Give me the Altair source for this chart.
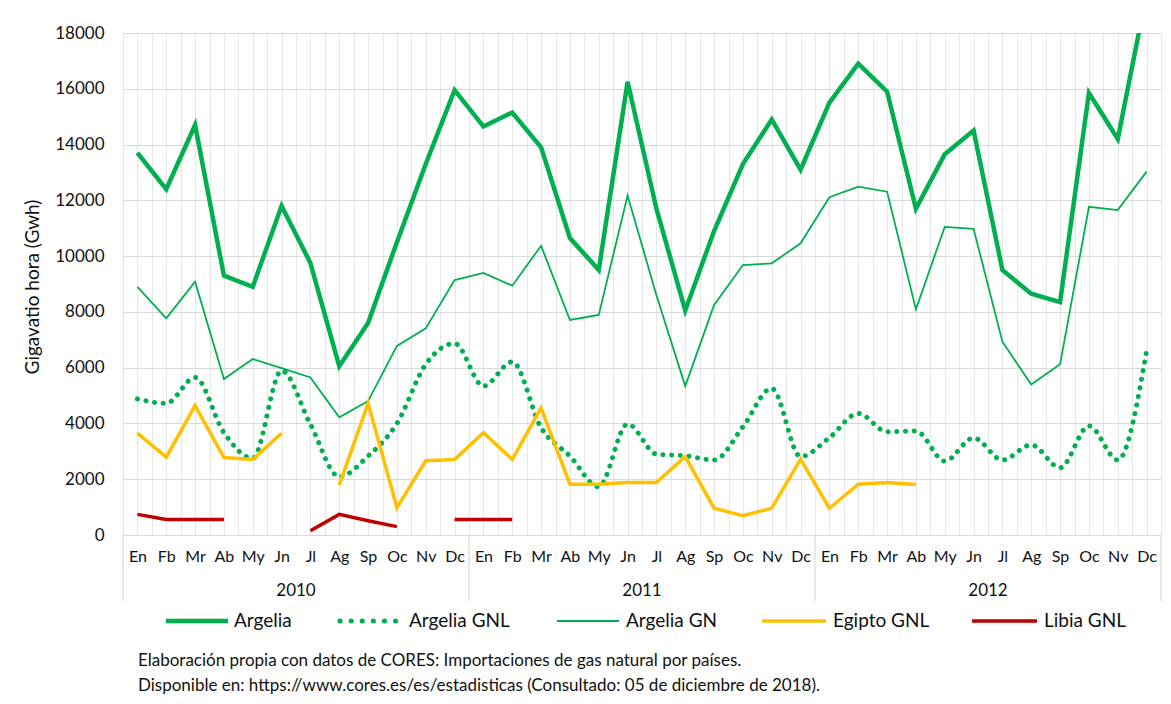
import altair as alt
import pandas as pd

months = ["En", "Fb", "Mr", "Ab", "My", "Jn", "Jl", "Ag", "Sp", "Oc", "Nv", "Dc"]
years = ["2010", "2011", "2012"]

argelia = [13700, 12400, 14700, 9300, 8900, 11800, 9750, 6050, 7600, 10500, 13300, 15950,
           14650, 15150, 13900, 10650, 9500, 16250, 11700, 8050, 10900, 13300, 14900, 13100,
           15500, 16900, 15900, 11700, 13650, 14500, 9500, 8650, 8350, 15850, 14200, 19400]

argelia_gnl = [4880, 4720, 5650, 3670, 2750, 5890, 3970, 2090, 2830, 4000, 6120, 6870,
               5340, 6210, 3850, 2830, 1730, 3980, 2900, 2840, 2690, 3880, 5260, 2810,
               3490, 4360, 3700, 3730, 2650, 3480, 2690, 3230, 2410, 3910, 2690, 6600]

argelia_gn = [8900, 7770, 9080, 5590, 6310, 5980, 5650, 4220, 4800, 6780, 7410, 9140,
              9400, 8940, 10370, 7710, 7890, 12170, 8600, 5340, 8250, 9680, 9740, 10460,
              12110, 12490, 12310, 8090, 11050, 10980, 6930, 5400, 6120, 11770, 11650, 13030]

egipto_gnl = [3650, 2790, 4640, 2780, 2710, 3650, None, 1790, 4720, 980, 2660, 2710,
              3670, 2710, 4560, 1820, 1820, 1880, 1880, 2810, 960, 690, 960, 2720,
              960, 1820, 1880, 1810, None, None, None, None, None, None, None, None]

libia_gnl = [740, 560, 560, 560, None, None, 150, 740, 510, 300, None, 560,
             560, 560, None, None, None, None, None, None, None, None, None, None,
             None, None, None, None, None, None, None, None, None, None, None, None]

series_names = ["Argelia", "Argelia GNL", "Argelia GN", "Egipto GNL", "Libia GNL"]
series_vals = [argelia, argelia_gnl, argelia_gn, egipto_gnl, libia_gnl]

GREEN = "#00B050"
YELLOW = "#FFC000"
RED = "#C00000"
FONT = "Lato"
TXT = "#111111"

rows = []
for name, vals in zip(series_names, series_vals):
    seg = 0
    for i, v in enumerate(vals):
        if v is None:
            seg += 1
            continue
        rows.append({"series": name, "idx": i, "value": v, "seg": seg})
df = pd.DataFrame(rows)

W, H = 1038, 502

month_arr = "[" + ",".join("'" + m + "'" for m in months) + "]"
label_expr = "datum.value % 1 == 0 ? " + month_arr + "[datum.value % 12] : ''"

x_scale = alt.Scale(domain=[-0.5, 35.5], nice=False, zero=False)
x_axis = alt.Axis(
    values=[i * 0.5 - 0.5 for i in range(73)],
    labelExpr=label_expr,
    grid=True, gridColor="#E6E6E6", gridWidth=1,
    ticks=False, domain=False, title=None,
    labelOverlap=False, labelFlush=False, labelBound=False,
    labelFont=FONT, labelFontSize=16, labelColor=TXT, labelPadding=13,
)
x_enc = alt.X("idx:Q", scale=x_scale, axis=x_axis)
y_enc = alt.Y(
    "value:Q",
    scale=alt.Scale(domain=[0, 18000], nice=False, zero=True),
    axis=alt.Axis(
        values=list(range(0, 18001, 2000)), format="d",
        grid=True, gridColor="#D9D9D9", gridWidth=1,
        ticks=False, domain=False, title=None,
        labelFont=FONT, labelFontSize=17, labelColor=TXT, labelPadding=19,
    ),
)

def series_layer(name, **mark):
    return alt.Chart(df[df.series == name]).mark_line(**mark).encode(
        x=x_enc, y=y_enc, detail="seg:N"
    )

l_arg = series_layer("Argelia", color=GREEN, strokeWidth=4.5, clip=True, strokeJoin="miter")
l_gnl = series_layer("Argelia GNL", color=GREEN, strokeWidth=5, strokeDash=[0.1, 8.6],
                     strokeCap="round", interpolate="monotone")
l_gn = series_layer("Argelia GN", color=GREEN, strokeWidth=1.8)
l_egi = series_layer("Egipto GNL", color=YELLOW, strokeWidth=3.5)
l_lib = series_layer("Libia GNL", color=RED, strokeWidth=3.5)

# multi-level category axis: year group separators and year labels
sep_df = pd.DataFrame({"pos": [-0.5, 11.5, 23.5, 35.5]})
seps = alt.Chart(sep_df).mark_rule(color="#D9D9D9", strokeWidth=1.2).encode(
    x=alt.X("pos:Q", scale=x_scale, axis=x_axis),
    y=alt.value(H), y2=alt.value(H + 66),
)
year_df = pd.DataFrame({"year": years, "mid": [5.5, 17.5, 29.5]})
year_txt = alt.Chart(year_df).mark_text(font=FONT, fontSize=17, color=TXT, baseline="middle").encode(
    x=alt.X("mid:Q", scale=x_scale, axis=x_axis),
    y=alt.value(H + 56), text="year:N",
)

# y axis title
y_title = alt.Chart(pd.DataFrame({"t": ["Gigavatio hora (Gwh)"]})).mark_text(
    font=FONT, fontSize=19, color=TXT, angle=270, align="center", baseline="middle"
).encode(x=alt.value(-90), y=alt.value(H / 2 + 3), text="t:N")

# legend (below the chart)
LX0 = 123
leg_y = 588
legend_items = [
    ("Argelia", 166, 228, 6, dict(color=GREEN, strokeWidth=4.5)),
    ("Argelia GNL", 340, 398, 11, dict(color=GREEN, strokeWidth=5, strokeDash=[0.1, 11], strokeCap="round")),
    ("Argelia GN", 557, 619, 7, dict(color=GREEN, strokeWidth=1.8)),
    ("Egipto GNL", 762, 826, 7, dict(color=YELLOW, strokeWidth=3.5)),
    ("Libia GNL", 972, 1037, 7, dict(color=RED, strokeWidth=3.5)),
]
legend_layers = []
for name, a, b, gap, st in legend_items:
    one = pd.DataFrame({"label": [name]})
    legend_layers.append(
        alt.Chart(one).mark_rule(**st).encode(
            x=alt.value(a - LX0), x2=alt.value(b - LX0), y=alt.value(leg_y)
        )
    )
    legend_layers.append(
        alt.Chart(one).mark_text(font=FONT, fontSize=19, color=TXT, align="left", baseline="middle").encode(
            x=alt.value(b - LX0 + gap), y=alt.value(leg_y), text="label:N"
        )
    )

notes = [
    "Elaboración propia con datos de CORES: Importaciones de gas natural por países.",
    "Disponible en:  https://www.cores.es/es/estadisticas (Consultado: 05 de diciembre de 2018).",
]
note_layers = []
for k, t in enumerate(notes):
    note_layers.append(
        alt.Chart(pd.DataFrame({"t": [t]})).mark_text(
            font=FONT, fontSize=17, color=TXT, align="left", baseline="middle"
        ).encode(x=alt.value(138 - LX0), y=alt.value(628 + 25 * k), text="t:N")
    )

border = alt.Chart(pd.DataFrame({"b": [0]})).mark_rect(
    fill=None, stroke="#D9D9D9", strokeWidth=1.5
).encode(x=alt.value(-116), x2=alt.value(W + 30), y=alt.value(-26), y2=alt.value(H + 200))

chart = alt.layer(
    l_arg, l_gnl, l_gn, l_egi, l_lib, seps, year_txt, y_title, border, *legend_layers, *note_layers
).properties(
    width=W, height=H,
    autosize=alt.AutoSizeParams(type="none"),
    padding={"left": 115, "top": 25, "right": 2, "bottom": 161},
).configure(font=FONT).configure_view(stroke=None)

chart.save("out.html", embed_options={"renderer": "svg", "actions": False})
